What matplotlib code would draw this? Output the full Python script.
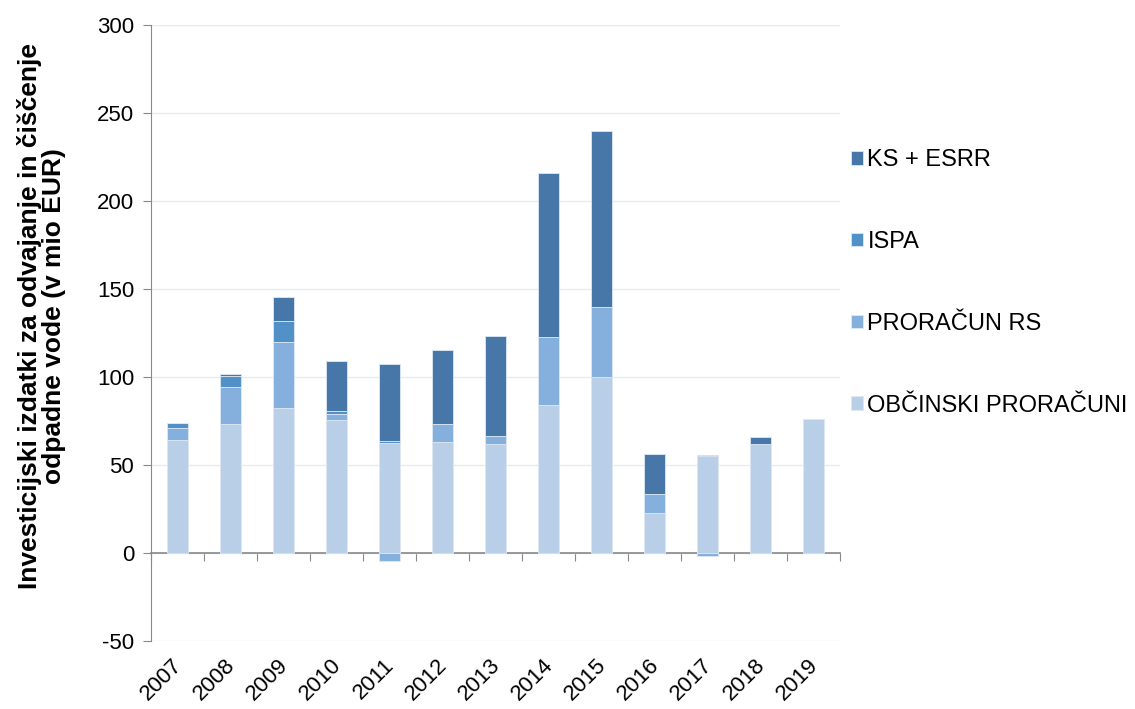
import matplotlib
matplotlib.use("Agg")
import matplotlib.pyplot as plt
import numpy as np
from matplotlib.transforms import blended_transform_factory

years = ["2007", "2008", "2009", "2010", "2011", "2012", "2013",
         "2014", "2015", "2016", "2017", "2018", "2019"]
obcinski = [64.3, 73.5, 82.4, 75.8, 62.4, 63.2, 62.2, 84.3, 100.2, 22.5, 55.0, 62.2, 76.0]
proracun_rs = [7.0, 21.0, 37.6, 3.4, -4.7, 10.2, 4.1, 38.7, 39.7, 10.8, -1.9, 0.0, 0.4]
ispa = [2.4, 6.3, 11.9, 1.5, 1.5, 0.0, 0.0, 0.0, 0.0, 0.0, 0.0, 0.0, 0.0]
ks_esrr = [0.0, 0.8, 13.5, 28.4, 43.5, 41.9, 56.9, 93.2, 99.9, 23.2, 0.8, 3.6, 0.0]

series = [
    ("OBČINSKI PRORAČUNI", obcinski, "#b9cfe8"),
    ("PRORAČUN RS", proracun_rs, "#85afdc"),
    ("ISPA", ispa, "#5290c8"),
    ("KS + ESRR", ks_esrr, "#4677a8"),
]

plt.rcParams['font.family'] = ['Liberation Sans', 'DejaVu Sans']
plt.rcParams['axes.unicode_minus'] = False

fig = plt.figure(figsize=(11.35, 7.09), dpi=100)
ax = fig.add_axes([0.133, 0.0959, 0.607, 0.8688])

x = np.arange(len(years))
pos_bottom = np.zeros(len(years))
neg_bottom = np.zeros(len(years))
handles = []
for name, vals, col in series:
    v = np.array(vals, dtype=float)
    bottom = np.where(v >= 0, pos_bottom, neg_bottom)
    b = ax.bar(x, v, 0.4, bottom=bottom, color=col, label=name,
               edgecolor="#dde8f4", linewidth=0.6, zorder=3)
    handles.append(b)
    pos_bottom = pos_bottom + np.where(v >= 0, v, 0)
    neg_bottom = neg_bottom + np.where(v < 0, v, 0)

ax.set_xlim(-0.5, len(years) - 0.5)
ax.set_ylim(-50, 300)
ax.set_yticks(np.arange(-50, 301, 50))
ax.tick_params(axis='y', labelsize=16, direction='out', length=6,
               color='#888888', pad=6)
ax.grid(axis='y', color='#e4ebf5', linewidth=1, zorder=0)

for s in ['top', 'right']:
    ax.spines[s].set_visible(False)
ax.spines['left'].set_color('#888888')
ax.spines['bottom'].set_position(('data', 0))
ax.spines['bottom'].set_color('#888888')
ax.spines['bottom'].set_linewidth(1.2)
ax.set_xticks(np.arange(-0.5, len(years), 1.0))
ax.set_xticklabels([])
ax.tick_params(axis='x', direction='out', length=6, color='#888888')

trans = blended_transform_factory(ax.transData, ax.transAxes)
for i, yr in enumerate(years):
    ax.text(i - 0.11, -0.022, yr, transform=trans, rotation=45,
            ha='right', va='top', rotation_mode='anchor', fontsize=16)

ax.set_ylabel("Investicijski izdatki za odvajanje in čiščenje\nodpadne vode (v mio EUR)",
              fontsize=19, fontweight='bold', linespacing=1.0)
ax.yaxis.set_label_coords(-0.124, 0.527)

fig.legend(handles[::-1], [s[0] for s in series][::-1],
           loc='center left', bbox_to_anchor=(0.731, 0.6009),
           frameon=False, fontsize=17, handlelength=0.5, handleheight=0.5,
           handletextpad=0.2, labelspacing=2.53)

fig.savefig("out.png", dpi=100)
